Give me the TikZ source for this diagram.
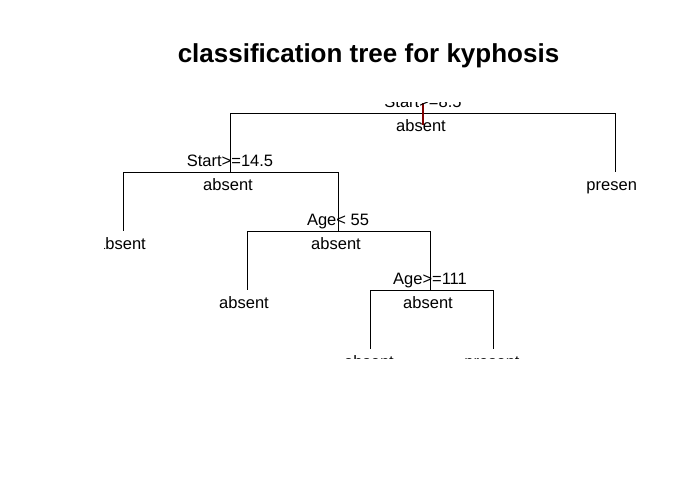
\documentclass[tikz,border=0pt]{standalone}
\usepackage{fontspec}
\setmainfont{Liberation Sans}
\definecolor{rootred}{RGB}{128,0,0}
\begin{document}
\begin{tikzpicture}[x=1pt,y=-1pt,
  edge/.style={draw=black,line width=1pt},
  lbl/.style={inner sep=0pt,anchor=base,font=\fontsize{16.5}{16.5}\selectfont},
  ttl/.style={inner sep=0pt,anchor=base,font=\fontsize{26}{26}\selectfont\bfseries}]
\useasboundingbox[fill=white] (0,0) rectangle (688,488);
\node[ttl] (title) at (368.5,62) {classification tree for kyphosis};
\begin{scope}
\clip (104,102) rectangle (635,358.5);
% tree points
\coordinate (n1) at (423,113);
\coordinate (n2) at (230,172);
\coordinate (n3) at (615,172);
\coordinate (n4) at (123,231);
\coordinate (n5) at (338,231);
\coordinate (n6) at (247,290);
\coordinate (n7) at (430,290);
\coordinate (n8) at (370,349);
\coordinate (n9) at (493,349);
\coordinate (r0) at (423,103);
\coordinate (r1) at (423,125);
% edges
\draw[edge] (n2|-n1) -- (n3|-n1);
\draw[edge] (n2|-n1) -- (n2);
\draw[edge] (n3|-n1) -- (n3);
\draw[edge] (n4|-n2) -- (n5|-n2);
\draw[edge] (n4|-n2) -- (n4);
\draw[edge] (n5|-n2) -- (n5);
\draw[edge] (n6|-n5) -- (n7|-n5);
\draw[edge] (n6|-n5) -- (n6);
\draw[edge] (n7|-n5) -- (n7);
\draw[edge] (n8|-n7) -- (n9|-n7);
\draw[edge] (n8|-n7) -- (n8);
\draw[edge] (n9|-n7) -- (n9);
\draw[draw=rootred,line width=1.2pt] (r0) -- (r1);
% split labels
\node[lbl] (s1) at (423,107.5) {Start>=8.5};
\node[lbl] (s2) at (230,166.5) {Start>=14.5};
\node[lbl] (s5) at (338,225.5) {Age< 55};
\node[lbl] (s7) at (430,284.5) {Age>=111};
% class labels
\node[lbl] (c1) at (421,131.5) {absent};
\node[lbl] (c2) at (228,190.5) {absent};
\node[lbl] (c3) at (614,190.5) {present};
\node[lbl] (c4) at (121,249.5) {absent};
\node[lbl] (c5) at (336,249.5) {absent};
\node[lbl] (c6) at (244,308.5) {absent};
\node[lbl] (c7) at (428,308.5) {absent};
\node[lbl] (c8) at (369,367.5) {absent};
\node[lbl] (c9) at (492,367.5) {present};
\end{scope}
\end{tikzpicture}
\end{document}
